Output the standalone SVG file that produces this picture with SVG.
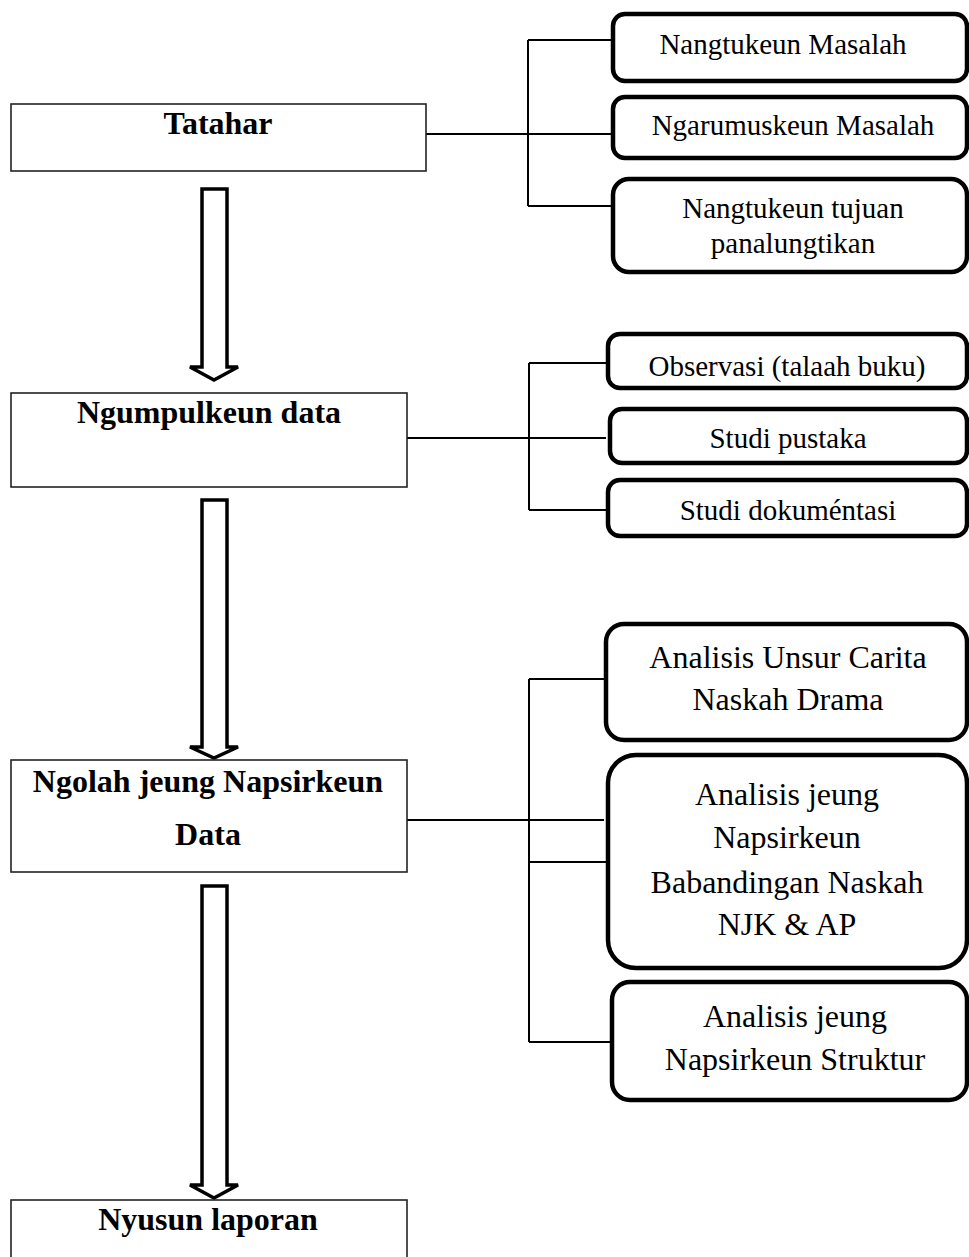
<svg xmlns="http://www.w3.org/2000/svg" width="969" height="1257" viewBox="0 0 969 1257">
<style>
.main{fill:#fff;stroke:#222;stroke-width:1.6}
.sub{fill:#fff;stroke:#000;stroke-width:4.5}
.arrow{fill:#fff;stroke:#000;stroke-width:3.5;stroke-linejoin:miter}
.conn{fill:none;stroke:#000;stroke-width:2}
.hb{font-family:"Liberation Serif","Times New Roman",serif;font-weight:bold;font-size:32px;text-anchor:middle;fill:#000}
.t29{font-family:"Liberation Serif","Times New Roman",serif;font-size:29px;text-anchor:middle;fill:#000}
.t32{font-family:"Liberation Serif","Times New Roman",serif;font-size:32px;text-anchor:middle;fill:#000}
</style>
<rect width="969" height="1257" fill="#fff"/>

<g id="connectors">
  <path class="conn" d="M421,134 H611 M528,40 V206 M528,40 H611 M528,206 H611"/>
  <path class="conn" d="M407,438 H606 M529,363 V510 M529,363 H606 M529,510 H606"/>
  <path class="conn" d="M407,820 H604 M529,679 V1042 M529,679 H604 M529,862 H606 M529,1042 H610"/>
  <path class="arrow" d="M202,189 H227 V367 H238 L214,380 L190,367 H202 Z"/>
  <path class="arrow" d="M202,500 H227 V747 H238 L214,758 L190,747 H202 Z"/>
  <path class="arrow" d="M202,886 H227 V1185 H238 L214,1198 L190,1185 H202 Z"/>
</g>

<g id="tatahar">
  <rect class="main" x="11" y="104" width="415" height="67"/>
  <text class="hb" x="218" y="134">Tatahar</text>
</g>
<g id="nangtukeun-masalah">
  <rect class="sub" x="613" y="14" width="354" height="67" rx="12"/>
  <text class="t29" x="783" y="54">Nangtukeun Masalah</text>
</g>
<g id="ngarumuskeun-masalah">
  <rect class="sub" x="613" y="97" width="354" height="61" rx="12"/>
  <text class="t29" x="793" y="135">Ngarumuskeun Masalah</text>
</g>
<g id="nangtukeun-tujuan">
  <rect class="sub" x="613" y="179" width="354" height="93" rx="16"/>
  <text class="t29" x="793" y="218">Nangtukeun tujuan</text>
  <text class="t29" x="793" y="253">panalungtikan</text>
</g>

<g id="ngumpulkeun-data">
  <rect class="main" x="11" y="393" width="396" height="94"/>
  <text class="hb" x="209" y="423">Ngumpulkeun data</text>
</g>
<g id="observasi">
  <rect class="sub" x="608" y="334" width="359" height="54" rx="12"/>
  <text class="t29" x="787" y="376">Observasi (talaah buku)</text>
</g>
<g id="studi-pustaka">
  <rect class="sub" x="610" y="409" width="357" height="54" rx="12"/>
  <text class="t29" x="788" y="448">Studi pustaka</text>
</g>
<g id="studi-dokumentasi">
  <rect class="sub" x="608" y="480" width="359" height="56" rx="12"/>
  <text class="t29" x="788" y="520">Studi dokuméntasi</text>
</g>

<g id="ngolah">
  <rect class="main" x="11" y="760" width="396" height="112"/>
  <text class="hb" x="208" y="792">Ngolah jeung Napsirkeun</text>
  <text class="hb" x="208" y="845">Data</text>
</g>
<g id="analisis-unsur">
  <rect class="sub" x="606" y="624" width="361" height="116" rx="18"/>
  <text class="t32" x="788" y="668">Analisis Unsur Carita</text>
  <text class="t32" x="788" y="710">Naskah Drama</text>
</g>
<g id="analisis-babandingan">
  <rect class="sub" x="608" y="755" width="359" height="213" rx="28"/>
  <text class="t32" x="787" y="805">Analisis jeung</text>
  <text class="t32" x="787" y="848">Napsirkeun</text>
  <text class="t32" x="787" y="893">Babandingan Naskah</text>
  <text class="t32" x="787" y="935">NJK &amp; AP</text>
</g>
<g id="analisis-struktur">
  <rect class="sub" x="612" y="982" width="355" height="118" rx="18"/>
  <text class="t32" x="795" y="1027">Analisis jeung</text>
  <text class="t32" x="795" y="1070">Napsirkeun Struktur</text>
</g>

<g id="nyusun-laporan">
  <rect class="main" x="11" y="1200" width="396" height="70"/>
  <text class="hb" x="208" y="1230">Nyusun laporan</text>
</g>
</svg>
